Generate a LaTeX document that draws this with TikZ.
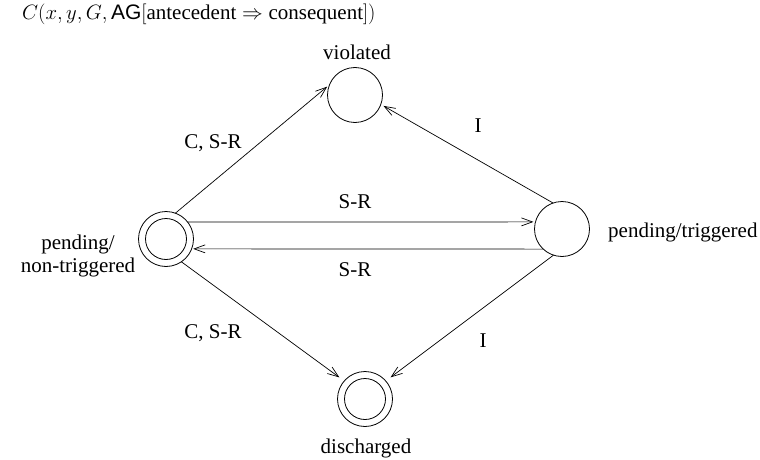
\documentclass[tikz,border=0pt]{standalone}
\usepackage{fontspec}
\setmainfont{Liberation Serif}
\setsansfont{Liberation Sans}
\usetikzlibrary{arrows.meta}
\begin{document}
\begin{tikzpicture}[x=1pt,y=-1pt,
  every node/.style={font=\fontsize{21}{25}\selectfont},
  st/.style={circle,draw,line width=0.8pt,minimum size=55pt,inner sep=0pt,outer sep=0pt},
  fin/.style={st,path picture={\draw[line width=0.8pt] (path picture bounding box.center) circle (20.5pt);}},
  arr/.style={line width=0.7pt,-{Straight Barb[length=11pt,width=8pt,line width=0.7pt]}},
  lbl/.style={inner sep=0pt}]
\useasboundingbox (0,0) rectangle (760,460);
% states
\node[st]  (vi) at (355,95) {};
\node[fin] (nt) at (166,239) {};
\node[st]  (tr) at (562,229) {};
\node[fin] (di) at (365,399) {};
% state names
\node[lbl,anchor=base west] (title) at (22,20) {$C(x, y, G, \textsf{AG}[\textrm{antecedent} \Rightarrow \textrm{consequent}])$};
\node[lbl] (lvi) at (357,52) {violated};
\node[lbl,align=center] (lnt) at (78,256) {pending/\\[-2pt]non-triggered};
\node[lbl,anchor=west] (ltr) at (608,232) {pending/triggered};
\node[lbl] (ldi) at (366,448) {discharged};
% transitions
\draw[arr,shorten >=3pt] (nt.70) -- (vi.158);
\draw[arr,shorten >=3pt] (tr.109) -- (vi.-20);
\draw[arr,shorten >=2pt] (nt.38) -- (tr.165);
\draw[arr,shorten >=1.5pt] (tr.-133) -- (nt.-21);
\draw[arr,shorten >=6pt] (nt.-56) -- (di.139);
\draw[arr,shorten >=6pt] (tr.-108) -- (di.41);
% transition labels
\node[lbl] (e1) at (213,143) {C, S-R};
\node[lbl] (e2) at (478,126) {I};
\node[lbl] (e3) at (355,202) {S-R};
\node[lbl] (e4) at (355,270) {S-R};
\node[lbl] (e5) at (213,333) {C, S-R};
\node[lbl] (e6) at (483,341) {I};
\end{tikzpicture}
\end{document}
